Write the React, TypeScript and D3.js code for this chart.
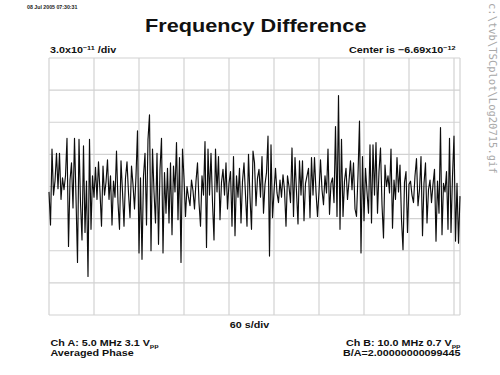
import * as d3 from 'd3';

// Frequency difference, deviation from the center value, in units of 1e-12.
// One sample every 2 s.
const sampleStep = 2;
const deviation = [
  -5, -36, 35, -8, 5, 31, -2, 31, -12, 8,
  -3, 10, 45, -56, 6, 22, -20, 45, -10, -71,
  44, -15, -50, 38, -43, 5, -84, 44, -40, 10,
  -10, 18, -12, 23, -5, -37, 19, -8, 4, 25,
  -12, 10, -36, 5, -10, 33, -15, -40, 24, -5,
  -37, 8, 23, -6, -29, 19, 2, -21, 10, 52,
  -62, 8, -68, 10, 31, -36, 44, 67, -60, 35,
  -5, -34, 31, -54, 16, 45, -62, 13, -25, 17,
  -34, 22, -45, 19, -5, 41, -31, 27, -71, 35,
  8, -28, 0, -10, -18, 6, -4, -21, 5, 22,
  -15, -37, 10, -8, 42, -57, 35, -8, 31, -15,
  -50, 35, -5, 28, -31, 4, 16, -8, 22, -21,
  3, 14, -37, 28, -46, 10, -10, 17, -34, 5,
  22, -8, -37, 30, -10, -40, 33, 22, -18, 8,
  16, -10, 28, -25, 2, 13, 47, -65, 39, -29,
  -5, 17, -6, -15, 6, -10, 11, -3, -37, 10,
  0, -15, 36, -28, 27, -5, -35, 24, -8, 24,
  -32, 3, 10, 17, -29, 27, -8, 27, -5, -28,
  -5, 25, -3, -17, 10, -6, 35, -26, 3, 8,
  -15, 56, -28, 85, -40, 44, -28, 5, 17, -12,
  5, 24, -3, 22, -21, -28, 11, 61, -62, 28,
  -32, 17, -5, -25, 39, -34, 39, -8, 41, -25,
  14, 36, -17, -48, 20, 0, 10, -6, 35, -39,
  6, -12, 27, -5, 20, -31, -59, 4, 14, -43,
  2, 5, -8, -15, 10, 26, -18, -3, 28, -46,
  3, 22, -34, -3, 6, -15, 2, 16, -51, 5,
  -25, 55, -45, 3, -5, 14, -40, 45, -43, 10,
  47, -51, 3, -53, -9,
];

// grid: 60 s/div horizontally, 30e-12 (3.0x10^-11) per div vertically
const timeTicks = [0, 60, 120, 180, 240, 300, 360, 420, 480, 540];
const devTicks = [-120, -90, -60, -30, 0, 30, 60, 90, 120];
const timeEnd = 548;

const W = 500;
const H = 375;
const SX = 1.17; // the original lettering is a little wide

const x = d3.scaleLinear().domain([0, 540]).range([49, 454]);
const y = d3.scaleLinear().domain([-120, 120]).range([315, 58]);

const line = d3
  .line<number>()
  .x((_, i) => x(i * sampleStep))
  .y((d) => y(d));

const bold = { fontFamily: 'Liberation Sans, Arial, sans-serif', fontWeight: 700 };

export default function App() {
  const gridColor = '#d2d2d2';
  return (
    <svg
      width={W}
      height={H}
      style={{ position: 'absolute', left: 0, top: 0, background: '#fff' }}
    >
      <rect width={W} height={H} fill="#fff" />

      {/* grid */}
      {timeTicks.map((t) => (
        <line key={'v' + t} x1={x(t)} x2={x(t)} y1={y(120)} y2={y(-120)} stroke={gridColor} strokeWidth={1.2} />
      ))}
      <line x1={x(timeEnd)} x2={x(timeEnd)} y1={y(120)} y2={y(-120)} stroke={gridColor} strokeWidth={1.2} />
      {devTicks.map((d) => (
        <line key={'h' + d} x1={x(0)} x2={x(timeEnd)} y1={y(d)} y2={y(d)} stroke={gridColor} strokeWidth={1.2} />
      ))}

      {/* trace */}
      <path d={line(deviation) ?? ''} fill="none" stroke="#0d0d0d" strokeWidth={1.15} strokeLinejoin="round" />

      {/* header */}
      <text transform="translate(27,9.3) scale(1.17,1)" fontSize={4.5} {...bold} fill="#222">
        08 Jul 2005 07:30:31
      </text>
      <text transform={`translate(145,32.3) scale(1.19,1)`} fontSize={18.2} {...bold} fill="#111">
        Frequency Difference
      </text>
      <text transform={`translate(50,53) scale(${SX},1)`} fontSize={9.2} {...bold} fill="#111">
        3.0x10
        <tspan dy={-3.2} fontSize={6.2}>−11</tspan>
        <tspan dy={3.2}> /div</tspan>
      </text>
      <text transform={`translate(455.5,53) scale(${SX},1)`} fontSize={9.2} {...bold} fill="#111" textAnchor="end">
        Center is −6.69x10
        <tspan dy={-3.2} fontSize={6.2}>−12</tspan>
        <tspan dy={3.2} fontSize={1}> </tspan>
      </text>

      {/* footer */}
      <text transform={`translate(249.5,328.3) scale(${SX},1)`} fontSize={9.2} {...bold} fill="#111" textAnchor="middle">
        60 s/div
      </text>
      <text transform={`translate(50.5,346) scale(${SX},1)`} fontSize={9.2} {...bold} fill="#111">
        Ch A: 5.0 MHz 3.1 V<tspan dy={2} fontSize={6.2}>pp</tspan>
      </text>
      <text transform={`translate(50.5,355.8) scale(${SX},1)`} fontSize={9.2} {...bold} fill="#111">
        Averaged Phase
      </text>
      <text transform={`translate(460.5,346) scale(${SX},1)`} fontSize={9.2} {...bold} fill="#111" textAnchor="end">
        Ch B: 10.0 MHz 0.7 V<tspan dy={2} fontSize={6.2}>pp</tspan>
      </text>
      <text transform={`translate(460.5,355.8) scale(${SX},1)`} fontSize={9.2} {...bold} fill="#111" textAnchor="end">
        B/A=2.00000000099445
      </text>

      {/* file path, sideways */}
      <text
        transform="translate(489,3) rotate(90)"
        fontFamily="DejaVu Sans Mono, monospace"
        fontSize={10.5}
        fill="#a8a8a8"
      >
        {'c:\\tvb\\TSCplot\\Log20715.gif'}
      </text>
    </svg>
  );
}
